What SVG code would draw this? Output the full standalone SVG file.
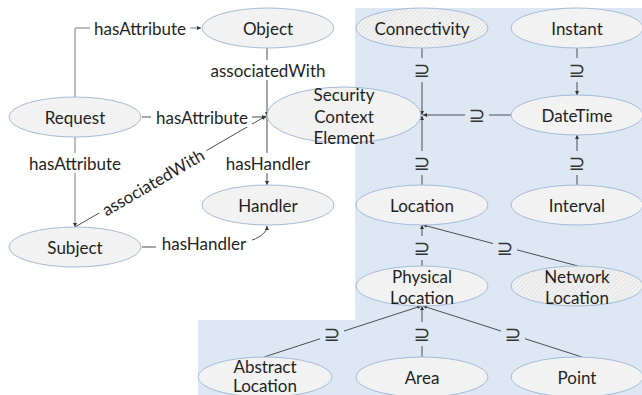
<svg xmlns="http://www.w3.org/2000/svg" width="642" height="395" viewBox="0 0 642 395">
  <style>
    .node ellipse { fill: #f2f2f2; stroke: #a3bbd8; stroke-width: 1; }
    .node ellipse.hatch { fill: url(#hatch); }
    .node text, .lbl text { font-family: Lato, "Liberation Sans", sans-serif; font-size: 17px; fill: #1f1f1f; text-anchor: middle; dominant-baseline: central; }
    .edge { fill: none; stroke: #4d4d4d; stroke-width: 1; }
    .edge.grey { stroke: #7f7f7f; }
    .lbl rect.w { fill: #ffffff; }
    .lbl rect.b { fill: #dde8f4; }
    .lbl text.sub { font-family: "DejaVu Sans", sans-serif; font-size: 20px; fill: #333333; }
  </style>
  <defs>
    <pattern id="hatch" width="3" height="3" patternUnits="userSpaceOnUse" patternTransform="rotate(45)">
      <rect width="3" height="3" fill="#f2f2f2"/>
      <line x1="0" y1="0" x2="0" y2="3" stroke="#d4d4d4" stroke-width="1"/>
    </pattern>
    <marker id="arr" viewBox="0 0 6 6" refX="6" refY="3" markerWidth="4" markerHeight="4" markerUnits="userSpaceOnUse" orient="auto">
      <path d="M0,0 L6,3 L0,6 z" fill="#333333"/>
    </marker>
  </defs>

  <!-- context area -->
  <path d="M355,8 H642 V395 H198 V320 H355 Z" fill="#dde8f4"/>

  <g id="connectors">
    <!-- Request hasAttribute Object -->
    <path class="edge grey" d="M75,97 V28 H201" marker-end="url(#arr)"/>
    <!-- Request hasAttribute SecurityContextElement -->
    <path class="edge" d="M142,117 H266" marker-end="url(#arr)"/>
    <!-- Request hasAttribute Subject -->
    <path class="edge grey" d="M75,137 V227" marker-end="url(#arr)"/>
    <!-- Object associatedWith SecurityContextElement -->
    <path class="edge" d="M267,48 V116" marker-end="url(#arr)"/>
    <!-- SecurityContextElement hasHandler Handler -->
    <path class="edge" d="M267,116 V185" marker-end="url(#arr)"/>
    <!-- Subject associatedWith SecurityContextElement -->
    <path class="edge" d="M75,227 L266,116" marker-end="url(#arr)"/>
    <!-- Subject hasHandler Handler -->
    <path class="edge" d="M142,247 H200 C236,247 267,240 267,226" marker-end="url(#arr)"/>

    <!-- subsumption edges -->
    <path class="edge" d="M422,48 V115" marker-end="url(#arr)"/>
    <path class="edge" d="M511,115 H423" marker-end="url(#arr)"/>
    <path class="edge" d="M422,185 V116" marker-end="url(#arr)"/>
    <path class="edge" d="M577,48 V95" marker-end="url(#arr)"/>
    <path class="edge" d="M577,185 V135" marker-end="url(#arr)"/>
    <path class="edge" d="M422,266 V225" marker-end="url(#arr)"/>
    <path class="edge" d="M578,266 L423,225" marker-end="url(#arr)"/>
    <path class="edge" d="M264,357 L421,306" marker-end="url(#arr)"/>
    <path class="edge" d="M422,357 V306" marker-end="url(#arr)"/>
    <path class="edge" d="M582,357 L423,306" marker-end="url(#arr)"/>

    <!-- labels -->
    <g class="lbl">
      <rect class="w" x="90" y="18" width="100" height="20"/>
      <text x="140" y="28">hasAttribute</text>
      <rect class="w" x="151" y="107" width="101" height="20"/>
      <text x="202" y="117">hasAttribute</text>
      <rect class="w" x="24" y="153" width="102" height="20"/>
      <text x="75" y="163">hasAttribute</text>
      <rect class="w" x="204" y="60" width="128" height="20"/>
      <text x="268" y="70">associatedWith</text>
      <rect class="w" x="222" y="153" width="92" height="20"/>
      <text x="268" y="163">hasHandler</text>
      <rect class="w" x="156" y="233" width="96" height="20"/>
      <text x="204" y="243">hasHandler</text>
      <g transform="rotate(-30.2 153 182)">
        <rect class="w" x="91" y="172" width="124" height="20"/>
        <text x="153" y="182">associatedWith</text>
      </g>

      <rect class="b" x="410" y="58" width="24" height="24"/>
      <text class="sub" x="422" y="70">⊇</text>
      <rect class="b" x="465" y="103" width="24" height="24"/>
      <text class="sub" x="477" y="115">⊇</text>
      <rect class="b" x="410" y="151" width="24" height="24"/>
      <text class="sub" x="422" y="163">⊇</text>
      <rect class="b" x="565" y="58" width="24" height="24"/>
      <text class="sub" x="577" y="70">⊇</text>
      <rect class="b" x="565" y="151" width="24" height="24"/>
      <text class="sub" x="577" y="163">⊇</text>
      <rect class="b" x="410" y="236" width="24" height="24"/>
      <text class="sub" x="422" y="248">⊇</text>
      <rect class="b" x="493" y="236" width="24" height="24"/>
      <text class="sub" x="505" y="248">⊇</text>
      <rect class="b" x="320" y="322" width="24" height="24"/>
      <text class="sub" x="332" y="334">⊇</text>
      <rect class="b" x="410" y="322" width="24" height="24"/>
      <text class="sub" x="422" y="334">⊇</text>
      <rect class="b" x="501" y="322" width="24" height="24"/>
      <text class="sub" x="513" y="334">⊇</text>
    </g>
  </g>

  <g id="object" class="node"><ellipse cx="268" cy="28" rx="66" ry="20"/><text x="268" y="28">Object</text></g>
  <g id="request" class="node"><ellipse cx="75" cy="117" rx="66" ry="20"/><text x="75" y="117">Request</text></g>
  <g id="subject" class="node"><ellipse cx="75" cy="247" rx="66" ry="20"/><text x="75" y="247">Subject</text></g>
  <g id="handler" class="node"><ellipse cx="268" cy="205" rx="66" ry="20"/><text x="268" y="205">Handler</text></g>
  <g id="security-context-element" class="node">
    <ellipse cx="344" cy="115" rx="77" ry="28"/>
    <text x="344" y="94">Security</text>
    <text x="344" y="116">Context</text>
    <text x="344" y="137">Element</text>
  </g>
  <g id="connectivity" class="node"><ellipse class="hatch" cx="422" cy="28" rx="66" ry="20"/><text x="422" y="28">Connectivity</text></g>
  <g id="instant" class="node"><ellipse cx="577" cy="28" rx="66" ry="20"/><text x="577" y="28">Instant</text></g>
  <g id="datetime" class="node"><ellipse cx="577" cy="115" rx="66" ry="20"/><text x="577" y="115">DateTime</text></g>
  <g id="location" class="node"><ellipse cx="422" cy="205" rx="66" ry="20"/><text x="422" y="205">Location</text></g>
  <g id="interval" class="node"><ellipse cx="577" cy="205" rx="66" ry="20"/><text x="577" y="205">Interval</text></g>
  <g id="physical-location" class="node">
    <ellipse cx="422" cy="286" rx="66" ry="20"/>
    <text x="422" y="276">Physical</text>
    <text x="422" y="297">Location</text>
  </g>
  <g id="network-location" class="node">
    <ellipse class="hatch" cx="577" cy="286" rx="66" ry="20"/>
    <text x="577" y="276">Network</text>
    <text x="577" y="297">Location</text>
  </g>
  <g id="abstract-location" class="node">
    <ellipse cx="265" cy="377" rx="67" ry="20"/>
    <text x="265" y="366">Abstract</text>
    <text x="265" y="385">Location</text>
  </g>
  <g id="area" class="node"><ellipse cx="422" cy="377" rx="66" ry="20"/><text x="422" y="377">Area</text></g>
  <g id="point" class="node"><ellipse cx="577" cy="377" rx="66" ry="20"/><text x="577" y="377">Point</text></g>
</svg>
